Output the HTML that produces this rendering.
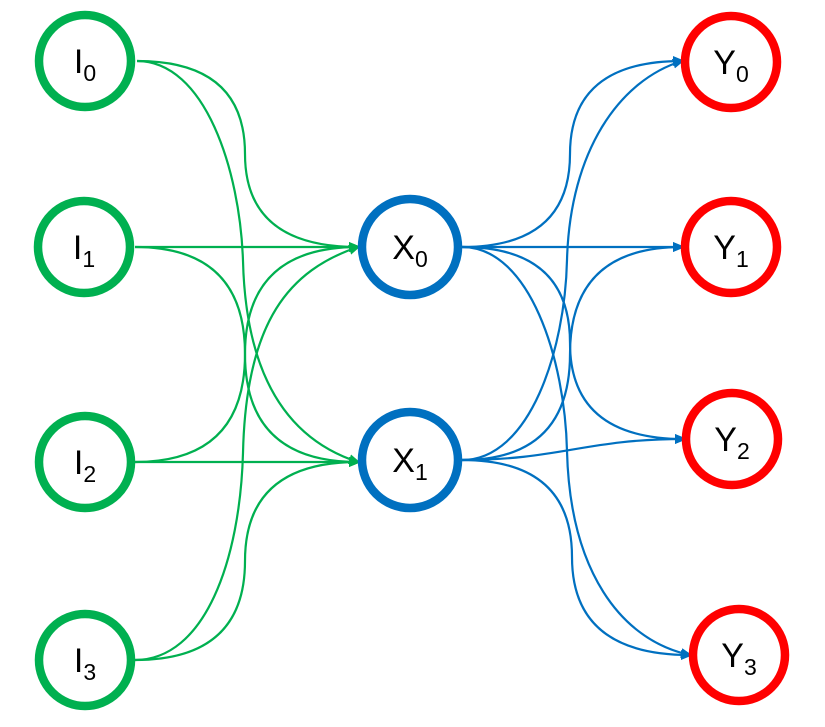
<!DOCTYPE html>
<html><head><style>body{margin:0;background:#fff}svg{display:block}</style></head><body>
<svg width="825" height="727" viewBox="0 0 825 727" xmlns="http://www.w3.org/2000/svg" font-family="Liberation Sans, sans-serif">
<defs>
<marker id="ag" markerWidth="10" markerHeight="10" refX="9" refY="5" orient="auto" markerUnits="userSpaceOnUse"><path d="M0,0 L12,5 L0,10 z" fill="#00b050"/></marker>
<marker id="ab" markerWidth="10" markerHeight="10" refX="9" refY="5" orient="auto" markerUnits="userSpaceOnUse"><path d="M0,0 L12,5 L0,10 z" fill="#0070c0"/></marker>
</defs>
<g fill="none" stroke="#00b050" stroke-width="2.2" marker-end="url(#ag)">
<path d="M137,61 Q245,61 245,154 Q245,247 358,247"/>
<path d="M137,61 C205,61 240,170 243,261 C246,380 290,440 358,462"/>
<path d="M135,247 L358,247"/>
<path d="M135,247 Q245,247 245,354 Q245,462 358,462"/>
<path d="M135,462 Q245,462 245,354 Q245,247 358,247"/>
<path d="M135,462 L358,462"/>
<path d="M135,660 C205,660 240,560 243,453 C246,320 290,270 358,247"/>
<path d="M135,660 Q245,660 245,561 Q245,462 358,462"/>
</g>
<g fill="none" stroke="#0070c0" stroke-width="2.2" marker-end="url(#ab)">
<path d="M462,247 Q570,247 570,154 Q570,61 682,61"/>
<path d="M462,247 L682,247"/>
<path d="M462,247 Q570,247 570,343 Q570,439 684,439"/>
<path d="M462,247 C530,247 565,360 567,451 C570,570 620,640 690,655"/>
<path d="M462,460 C530,460 565,350 567,260 C570,150 620,80 682,61"/>
<path d="M462,460 Q570,460 570,354 Q570,247 682,247"/>
<path d="M462,460 C560,460 585,439 684,439"/>
<path d="M462,460 Q572,460 572,557 Q572,655 690,655"/>
</g>
<g fill="#fff" stroke-width="8.5">
<circle cx="85" cy="61" r="46" stroke="#00b050"/>
<circle cx="84" cy="247" r="46" stroke="#00b050"/>
<circle cx="85" cy="462" r="46" stroke="#00b050"/>
<circle cx="85" cy="660" r="46" stroke="#00b050"/>
<circle cx="410" cy="247" r="48" stroke="#0070c0"/>
<circle cx="410" cy="460" r="48" stroke="#0070c0"/>
<circle cx="731" cy="62" r="46" stroke="#ff0000"/>
<circle cx="731" cy="247" r="46" stroke="#ff0000"/>
<circle cx="732" cy="439" r="46" stroke="#ff0000"/>
<circle cx="739" cy="655" r="46" stroke="#ff0000"/>
</g>
<g font-size="34" fill="#000" text-anchor="middle">
<text x="85" y="73">I<tspan font-size="23" dy="8">0</tspan></text>
<text x="84" y="259">I<tspan font-size="23" dy="8">1</tspan></text>
<text x="85" y="474">I<tspan font-size="23" dy="8">2</tspan></text>
<text x="85" y="672">I<tspan font-size="23" dy="8">3</tspan></text>
<text x="410" y="259">X<tspan font-size="23" dy="8">0</tspan></text>
<text x="410" y="472">X<tspan font-size="23" dy="8">1</tspan></text>
<text x="731" y="74">Y<tspan font-size="23" dy="8">0</tspan></text>
<text x="731" y="259">Y<tspan font-size="23" dy="8">1</tspan></text>
<text x="732" y="451">Y<tspan font-size="23" dy="8">2</tspan></text>
<text x="739" y="667">Y<tspan font-size="23" dy="8">3</tspan></text>
</g>
</svg>
</body></html>
